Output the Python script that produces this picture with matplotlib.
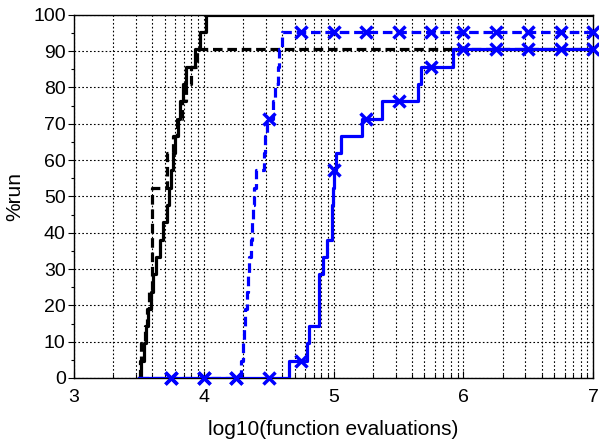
import numpy as np
import matplotlib
matplotlib.use("Agg")
import matplotlib.pyplot as plt

plt.rcParams['font.family'] = ['Liberation Sans', 'DejaVu Sans']

# step positions (log10 of function evaluations) and reached %run
black_solid_x = [3.50, 3.52, 3.54, 3.555, 3.57, 3.59, 3.61, 3.635, 3.66, 3.685, 3.72, 3.73,
                 3.745, 3.76, 3.78, 3.80, 3.82, 3.84, 3.86, 3.93, 3.97, 4.02, 7.0]
black_solid_y = [0, 4.76, 9.52, 14.29, 19.05, 23.81, 28.57, 33.33, 38.10, 42.86, 47.62, 52.38,
                 57.14, 61.90, 66.67, 71.43, 76.19, 80.95, 85.71, 90.48, 95.24, 100.0, 100.0]

black_dash_x = [3.50, 3.505, 3.52, 3.545, 3.56, 3.58, 3.60, 3.715, 3.72, 3.76, 3.795,
                3.83, 3.86, 3.90, 3.95, 7.0]
black_dash_y = [0, 4.76, 9.52, 14.29, 19.05, 23.81, 52.38, 57.14, 61.90, 66.67, 71.43,
                76.19, 80.95, 85.71, 90.48, 90.48]

blue_dash_x = [3.50, 4.29, 4.30, 4.31, 4.32, 4.33, 4.34, 4.35, 4.36, 4.37, 4.38, 4.39, 4.40,
               4.46, 4.47, 4.49, 4.53, 4.55, 4.57, 4.58, 4.60, 7.0]
blue_dash_y = [0, 4.76, 9.52, 14.29, 19.05, 23.81, 28.57, 33.33, 38.10, 42.86, 47.62, 52.38,
               57.14, 61.90, 66.67, 71.43, 76.19, 80.95, 85.71, 90.48, 95.24, 95.24]

blue_solid_x = [3.50, 4.66, 4.795, 4.81, 4.89, 4.915, 4.95, 4.985, 4.99, 4.995, 5.0,
                5.02, 5.06, 5.22, 5.37, 5.65, 5.67, 5.92, 7.0]
blue_solid_y = [0, 4.76, 9.52, 14.29, 28.57, 33.33, 38.10, 42.86, 47.62, 52.38, 57.14,
                61.90, 66.67, 71.43, 76.19, 80.95, 85.71, 90.48, 90.48]

marker_x = [3.75, 4.0, 4.25, 4.5, 4.75, 5.0, 5.25, 5.5, 5.75, 6.0, 6.25, 6.5, 6.75, 7.0]

x_ticks = [3, 4, 5, 6, 7]
y_ticks = [0, 10, 20, 30, 40, 50, 60, 70, 80, 90, 100]


def step_value(xs, ys, xq):
    xs = np.asarray(xs)
    ys = np.asarray(ys)
    idx = np.searchsorted(xs, xq, side='right') - 1
    idx = np.clip(idx, 0, len(ys) - 1)
    return ys[idx]


fig = plt.figure(figsize=(5.99, 4.45), dpi=100)
ax = fig.add_axes([0.1235, 0.1506, 0.867, 0.816])

lw = 2.3
ax.step(black_solid_x, black_solid_y, where='post', color='black', lw=lw, zorder=4)
ax.step(black_dash_x, black_dash_y, where='post', color='black', lw=lw,
        dashes=(3, 1.5), zorder=4)
ax.step(blue_dash_x, blue_dash_y, where='post', color='#0000ff', lw=lw,
        dashes=(3, 1.5), zorder=5)
ax.step(blue_solid_x, blue_solid_y, where='post', color='#0000ff', lw=lw, zorder=5)

mx = np.array(marker_x)
ax.plot(mx, step_value(blue_dash_x, blue_dash_y, mx), ls='none', marker='x',
        ms=8, mew=2.5, color='#0000ff', zorder=6, clip_on=False)
ax.plot(mx, step_value(blue_solid_x, blue_solid_y, mx), ls='none', marker='x',
        ms=8, mew=2.5, color='#0000ff', zorder=6, clip_on=False)

ax.set_xlim(3, 7)
ax.set_ylim(0, 100)
ax.set_xticks(x_ticks)
ax.set_xticklabels([str(t) for t in x_ticks])
ax.set_yticks(y_ticks)
ax.set_yticklabels([str(t) for t in y_ticks])
minor = [d + np.log10(k) for d in range(3, 7) for k in range(2, 10)]
ax.set_xticks(minor, minor=True)
ax.set_yticks([v + 5 for v in y_ticks[:-1]], minor=True)

ax.grid(True, which='major', ls=(0, (1.5, 2)), color='black', lw=0.8)
ax.grid(True, which='minor', axis='x', ls=(0, (1.5, 2)), color='black', lw=0.8)
ax.tick_params(axis='x', direction='in', labelsize=14, length=5, width=0.8, pad=8)
ax.tick_params(axis='x', which='minor', direction='in', length=3, width=0.8)
ax.tick_params(axis='y', direction='out', labelsize=14, length=4, width=0.8, pad=2)
ax.tick_params(axis='y', which='minor', direction='out', length=2.5, width=0.8)
for s in ax.spines.values():
    s.set_linewidth(1.0)

ax.set_xlabel('log10(function evaluations)', fontsize=15, labelpad=10)
ax.set_ylabel('%run', fontsize=15, labelpad=6)

fig.savefig('out.png', dpi=100)
